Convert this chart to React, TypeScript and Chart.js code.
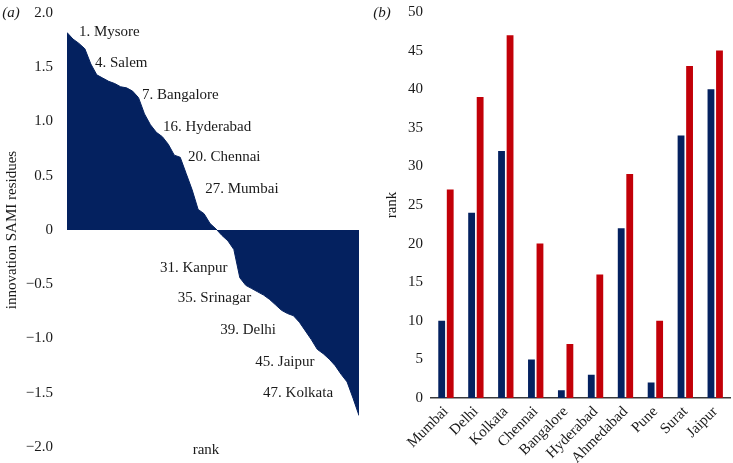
import React, { useEffect, useRef } from 'react';
import { Chart, registerables } from 'chart.js';

Chart.register(...registerables);

// ---------- Panel (a): innovation SAMI residues by rank ----------
const residues = [
  1.82, 1.76, 1.72, 1.67, 1.53, 1.43, 1.40, 1.37, 1.35, 1.32,
  1.31, 1.28, 1.22, 1.07, 0.97, 0.90, 0.86, 0.79, 0.69, 0.67,
  0.52, 0.37, 0.19, 0.15, 0.06, 0.01, -0.05, -0.10, -0.18, -0.44,
  -0.51, -0.54, -0.57, -0.60, -0.64, -0.69, -0.74, -0.77, -0.79, -0.85,
  -0.93, -1.01, -1.10, -1.14, -1.19, -1.25, -1.33, -1.40, -1.55, -1.71,
];
const cityLabels = [
  '1. Mysore', '4. Salem', '7. Bangalore', '16. Hyderabad', '20. Chennai', '27. Mumbai',
  '31. Kanpur', '35. Srinagar', '39. Delhi', '45. Jaipur', '47. Kolkata',
];
const cityLabelRank = [3.0, 5.7, 13.6, 17.1, 21.3, 24.2, 16.6, 19.6, 26.7, 32.6, 33.9];
const cityLabelValue = [1.82, 1.54, 1.24, 0.95, 0.67, 0.38, -0.35, -0.63, -0.92, -1.22, -1.50];
const residueTicks = [-2, -1.5, -1, -0.5, 0, 0.5, 1, 1.5, 2];

// ---------- Panel (b): rank of ten cities ----------
const cities = ['Mumbai', 'Delhi', 'Kolkata', 'Chennai', 'Bangalore', 'Hyderabad', 'Ahmedabad', 'Pune', 'Surat', 'Jaipur'];
const rankNavy = [10, 24, 32, 5, 1, 3, 22, 2, 34, 40];
const rankRed = [27, 39, 47, 20, 7, 16, 29, 10, 43, 45];

const NAVY = '#04215f';
const RED = '#c20008';
const FONT = "'Liberation Serif', 'Times New Roman', serif";
const TEXT = '#1a1a1a';

const fmt = (v: number) => (v === 0 ? '0' : (v < 0 ? '\u2212' : '') + Math.abs(v).toFixed(1));

export default function App() {
  const refA = useRef<HTMLCanvasElement>(null);
  const refB = useRef<HTMLCanvasElement>(null);

  useEffect(() => {
    const annoPlugin = {
      id: 'annoA',
      afterDatasetsDraw(chart: any) {
        const { ctx, scales, chartArea } = chart;
        const x = scales.x;
        const y = scales.y;
        ctx.save();
        ctx.fillStyle = TEXT;
        ctx.font = `15px ${FONT}`;
        ctx.textBaseline = 'middle';
        ctx.textAlign = 'left';
        cityLabels.forEach((t, i) => {
          ctx.fillText(t, x.getPixelForValue(cityLabelRank[i]), y.getPixelForValue(cityLabelValue[i]));
        });
        ctx.textAlign = 'center';
        ctx.fillText('rank', (chartArea.left + chartArea.right) / 2 - 7, chartArea.bottom + 3);
        ctx.font = `italic 15px ${FONT}`;
        ctx.fillText('(a)', 11, 13);
        ctx.restore();
      },
    };

    const chartA = new Chart(refA.current!, {
      type: 'line',
      data: {
        datasets: [
          {
            data: residues.map((v, i) => ({ x: i + 1, y: v })),
            fill: 'origin',
            backgroundColor: NAVY,
            borderColor: NAVY,
            borderWidth: 1,
            pointRadius: 0,
            tension: 0,
          },
        ],
      },
      options: {
        animation: false,
        responsive: false,
        layout: { padding: { top: 13, bottom: 16, left: 0, right: 11 } },
        plugins: { legend: { display: false }, tooltip: { enabled: false } },
        scales: {
          x: { type: 'linear', min: 1, max: residues.length, display: false },
          y: {
            min: -2,
            max: 2,
            afterBuildTicks: (s: any) => {
              s.ticks = residueTicks.map((v) => ({ value: v }));
            },
            afterFit: (s: any) => {
              s.width = 67;
              s.paddingTop = 0;
              s.paddingBottom = 0;
            },
            grid: { display: false, drawTicks: false },
            border: { display: false },
            ticks: {
              padding: 14,
              color: TEXT,
              font: { family: FONT, size: 15 },
              callback: (v: any) => fmt(Number(v)),
            },
            title: {
              display: true,
              text: 'innovation SAMI residues',
              color: TEXT,
              font: { family: FONT, size: 15 },
              padding: { top: 3, bottom: 0 },
            },
          },
        },
      },
      plugins: [annoPlugin],
    } as any);

    const labelPluginB = {
      id: 'annoB',
      afterDraw(chart: any) {
        const { ctx } = chart;
        ctx.save();
        ctx.fillStyle = TEXT;
        ctx.font = `italic 15px ${FONT}`;
        ctx.textBaseline = 'middle';
        ctx.textAlign = 'center';
        ctx.fillText('(b)', 12, 13);
        ctx.restore();
      },
    };

    const chartB = new Chart(refB.current!, {
      type: 'bar',
      data: {
        labels: cities,
        datasets: [
          { label: 'rank 1', data: rankNavy, backgroundColor: NAVY, barPercentage: 0.8, categoryPercentage: 0.57 },
          { label: 'rank 2', data: rankRed, backgroundColor: RED, barPercentage: 0.8, categoryPercentage: 0.57 },
        ],
      },
      options: {
        animation: false,
        responsive: false,
        layout: { padding: { top: 12, bottom: 0, left: 0, right: 1 } },
        plugins: { legend: { display: false }, tooltip: { enabled: false } },
        scales: {
          x: {
            grid: { display: false, drawTicks: false },
            border: { display: true, color: '#3a3a3a', width: 1.5 },
            afterFit: (s: any) => {
              s.height = 65;
            },
            ticks: {
              minRotation: 45,
              maxRotation: 45,
              autoSkip: false,
              padding: 5,
              color: TEXT,
              font: { family: FONT, size: 15 },
            },
          },
          y: {
            min: 0,
            max: 50,
            afterFit: (s: any) => {
              s.width = 61;
              s.paddingTop = 0;
              s.paddingBottom = 0;
            },
            grid: { display: false, drawTicks: false },
            border: { display: false },
            ticks: {
              stepSize: 5,
              padding: 8,
              color: TEXT,
              font: { family: FONT, size: 15 },
            },
            title: {
              display: true,
              text: 'rank',
              color: TEXT,
              font: { family: FONT, size: 15 },
              padding: { top: 13, bottom: 0 },
            },
          },
        },
      },
      plugins: [labelPluginB],
    } as any);

    return () => {
      chartA.destroy();
      chartB.destroy();
    };
  }, []);

  return (
    <div style={{ position: 'absolute', left: 0, top: 0, width: 733, height: 463, background: '#fff' }}>
      <canvas ref={refA} width={370} height={463} style={{ position: 'absolute', left: 0, top: 0, width: 370, height: 463 }} />
      <canvas ref={refB} width={363} height={463} style={{ position: 'absolute', left: 370, top: 0, width: 363, height: 463 }} />
    </div>
  );
}
